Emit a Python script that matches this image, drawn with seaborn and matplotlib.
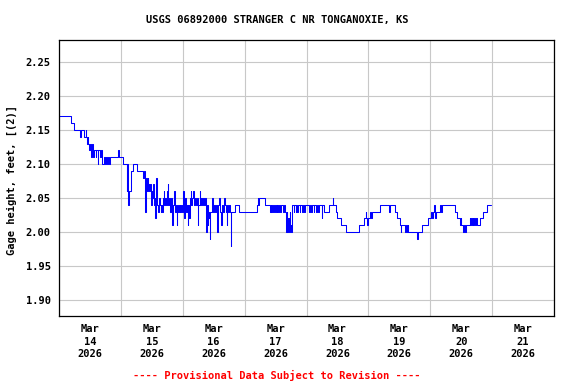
import matplotlib
matplotlib.use("Agg")
import matplotlib.pyplot as plt
from matplotlib.ticker import FormatStrFormatter, NullFormatter
import numpy as np
import pandas as pd
import seaborn as sns

# ---- data: (hours since 2026-03-14 00:00, gage height ft), held until next point ----
mar14 = [(0, 2.17), (4.65, 2.16), (5.8, 2.15), (8.1, 2.14), (8.4, 2.15), (9.8, 2.14),
         (10.3, 2.15), (10.5, 2.14), (10.8, 2.13), (11.1, 2.14), (11.4, 2.13), (11.8, 2.12),
         (12.1, 2.13), (12.4, 2.11), (12.7, 2.13), (13.0, 2.12), (13.3, 2.11), (13.6, 2.12),
         (14.2, 2.11), (14.5, 2.12), (15.0, 2.10), (15.3, 2.12), (15.8, 2.11), (16.2, 2.12),
         (16.7, 2.10), (17.6, 2.11), (17.9, 2.10), (18.3, 2.11), (18.6, 2.10), (19.0, 2.11),
         (19.4, 2.10), (19.8, 2.11), (22.9, 2.12), (23.2, 2.11)]
mar15 = [(24.8, 2.10), (26.2, 2.06), (26.5, 2.10), (26.9, 2.04), (27.2, 2.06), (27.8, 2.09),
         (28.7, 2.10), (30.2, 2.09), (32.6, 2.08), (33.0, 2.09), (33.3, 2.08), (33.5, 2.03),
         (33.75, 2.08), (34.1, 2.06), (34.4, 2.08), (34.7, 2.07), (35.0, 2.06), (35.3, 2.07),
         (35.6, 2.04), (35.9, 2.06), (36.2, 2.05), (36.5, 2.07), (36.8, 2.04), (37.1, 2.05),
         (37.4, 2.02), (37.6, 2.08), (37.85, 2.05), (38.2, 2.04), (38.5, 2.03), (38.8, 2.05),
         (39.1, 2.04), (39.4, 2.03), (39.7, 2.04), (40.0, 2.03), (40.3, 2.05), (40.6, 2.06),
         (40.9, 2.04), (41.2, 2.05), (41.5, 2.04), (41.8, 2.06), (42.1, 2.07), (42.35, 2.04),
         (42.7, 2.05), (43.0, 2.03), (43.4, 2.05), (43.9, 2.01), (44.2, 2.04), (44.6, 2.06),
         (44.9, 2.03), (45.2, 2.04), (45.6, 2.01), (45.9, 2.03), (46.2, 2.04), (46.5, 2.03),
         (46.8, 2.04), (47.1, 2.03), (47.4, 2.04), (47.8, 2.03)]
mar16 = [(48.1, 2.06), (48.35, 2.04), (48.6, 2.02), (48.9, 2.05), (49.2, 2.03), (49.5, 2.04),
         (49.9, 2.01), (50.15, 2.04), (50.5, 2.02), (50.8, 2.05), (51.1, 2.06), (51.35, 2.04),
         (51.7, 2.05), (52.0, 2.06), (52.25, 2.04), (52.6, 2.05), (53.0, 2.04), (53.4, 2.05),
         (53.8, 2.01), (54.05, 2.04), (54.5, 2.06), (54.75, 2.04), (55.2, 2.05), (55.6, 2.04),
         (56.0, 2.05), (56.2, 2.04), (56.5, 2.05), (57.0, 2.00), (57.25, 2.04), (57.6, 2.01),
         (57.9, 2.03), (58.2, 2.02), (58.5, 1.99), (58.75, 2.03), (59.3, 2.05), (59.6, 2.03),
         (60.0, 2.04), (60.4, 2.03), (60.8, 2.04), (61.3, 2.00), (61.55, 2.04), (62.0, 2.05),
         (62.3, 2.04), (62.6, 2.03), (62.9, 2.01), (63.15, 2.04), (63.5, 2.03), (64.0, 2.05),
         (64.3, 2.04), (64.7, 2.03), (65.0, 2.01), (65.25, 2.04), (65.6, 2.03), (65.9, 2.04),
         (66.2, 2.03), (66.6, 1.98), (66.85, 2.03), (68.2, 2.04), (69.8, 2.03)]
mar17 = [(76.8, 2.04), (77.1, 2.05), (77.3, 2.04), (77.5, 2.05), (80.0, 2.04), (81.8, 2.03),
         (82.1, 2.04), (82.4, 2.03), (82.7, 2.04), (83.0, 2.03), (83.3, 2.04), (83.7, 2.03),
         (84.0, 2.04), (84.4, 2.03), (84.7, 2.04), (85.1, 2.03), (85.5, 2.04), (85.9, 2.03),
         (86.3, 2.04), (86.7, 2.03), (87.1, 2.04), (87.5, 2.03), (88.0, 2.00), (88.25, 2.03),
         (88.5, 2.00), (88.75, 2.02), (89.2, 2.00), (89.45, 2.03), (89.7, 2.01), (90.1, 2.00),
         (90.35, 2.04), (91.0, 2.03), (91.25, 2.04), (91.8, 2.03), (92.05, 2.04), (92.4, 2.03),
         (92.65, 2.04), (93.3, 2.03), (93.55, 2.04), (94.2, 2.03), (94.45, 2.04), (95.0, 2.03),
         (95.5, 2.04)]
mar18 = [(97.0, 2.03), (97.25, 2.04), (97.8, 2.03), (98.05, 2.04), (98.8, 2.03), (99.05, 2.04),
         (99.6, 2.03), (100.1, 2.04), (100.6, 2.03), (100.85, 2.04), (101.9, 2.02), (102.15, 2.04),
         (102.7, 2.03), (104.7, 2.04), (106.2, 2.05), (106.45, 2.04), (107.3, 2.03), (107.9, 2.02),
         (109.2, 2.01), (111.5, 2.00), (116.3, 2.01), (118.3, 2.02), (118.9, 2.03), (119.15, 2.02),
         (119.4, 2.01)]
mar19 = [(120.0, 2.02), (120.8, 2.03), (121.1, 2.02), (121.5, 2.03), (124.5, 2.04), (128.0, 2.03),
         (128.25, 2.04), (130.3, 2.03), (131.0, 2.02), (132.2, 2.01), (132.5, 2.00), (132.75, 2.01),
         (134.2, 2.00), (134.6, 2.01), (134.85, 2.00), (135.2, 2.01), (135.45, 2.00), (138.8, 1.99),
         (139.3, 2.00), (140.7, 2.01), (143.1, 2.02)]
mar20 = [(144.2, 2.03), (144.6, 2.02), (145.0, 2.03), (145.4, 2.04), (145.65, 2.03), (146.0, 2.02),
         (146.3, 2.03), (147.7, 2.04), (148.0, 2.03), (148.4, 2.04), (153.5, 2.03), (154.3, 2.02),
         (155.5, 2.01), (155.8, 2.02), (156.1, 2.01), (156.6, 2.00), (157.0, 2.01), (157.3, 2.00),
         (157.8, 2.01), (159.3, 2.02), (159.55, 2.01), (159.9, 2.02), (160.15, 2.01), (160.5, 2.02),
         (160.75, 2.01), (161.1, 2.02), (161.35, 2.01), (161.7, 2.02), (162.0, 2.01), (163.2, 2.02),
         (164.4, 2.03), (165.9, 2.04), (167.5, 2.04)]

y_ticks = [1.90, 1.95, 2.00, 2.05, 2.10, 2.15, 2.20, 2.25]
day_labels = ["Mar\n14\n2026", "Mar\n15\n2026", "Mar\n16\n2026", "Mar\n17\n2026",
              "Mar\n18\n2026", "Mar\n19\n2026", "Mar\n20\n2026", "Mar\n21\n2026"]
title = "USGS 06892000 STRANGER C NR TONGANOXIE, KS"
ylabel = "Gage height, feet, [(2)]"
footer = "---- Provisional Data Subject to Revision ----"

# ---- build frame ----
start = pd.Timestamp("2026-03-14 00:00")
pairs = mar14 + mar15 + mar16 + mar17 + mar18 + mar19 + mar20
df = pd.DataFrame(pairs, columns=["hours", "gage"])
df["time"] = start + pd.to_timedelta(df["hours"], unit="h")

sns.set_theme(style="white")
plt.rcParams["font.family"] = ["DejaVu Sans Mono"]
plt.rcParams["font.weight"] = "bold"
plt.rcParams["font.size"] = 7.5
plt.rcParams["text.color"] = "black"
plt.rcParams["xtick.color"] = "black"
plt.rcParams["ytick.color"] = "black"
plt.rcParams["xtick.labelcolor"] = "black"
plt.rcParams["ytick.labelcolor"] = "black"

fig = plt.figure(figsize=(5.76, 3.84), dpi=100)
fig.patch.set_facecolor("white")
ax = fig.add_axes([59 / 576, 1 - 316 / 384, 495 / 576, 276 / 384])

sns.lineplot(data=df, x="time", y="gage", ax=ax, color="#0000ff", linewidth=0.75,
             drawstyle="steps-post", estimator=None, sort=True)

ax.set_xlim(start, start + pd.Timedelta(days=8))
ax.set_ylim(1.8765, 2.2824)
ax.set_yticks(y_ticks)
ax.yaxis.set_major_formatter(FormatStrFormatter("%.2f"))

midnights = [start + pd.Timedelta(days=i) for i in range(9)]
noons = [start + pd.Timedelta(days=i, hours=12) for i in range(8)]
ax.set_xticks(midnights)
ax.xaxis.set_major_formatter(NullFormatter())
ax.set_xticks(noons, minor=True)
ax.set_xticklabels(day_labels, minor=True, fontsize=7.5, fontweight="bold",
                   linespacing=1.3, color="black")

ax.grid(True, which="major", color="#c8c8c8", linewidth=0.8)
ax.grid(False, which="minor")
ax.tick_params(axis="both", which="both", length=0)
ax.tick_params(axis="x", which="minor", pad=6)
ax.tick_params(axis="y", which="major", pad=6, labelsize=7.5, labelcolor="black")
for s in ax.spines.values():
    s.set_color("black")
    s.set_linewidth(0.9)
ax.set_xlabel("")
ax.set_ylabel("")

fig.text(277 / 576, 1 - 20 / 384, title, ha="center", va="center", fontsize=7.5,
         fontweight="bold", color="black")
fig.text(12 / 576, 1 - 180 / 384, ylabel, ha="center", va="center", rotation=90,
         fontsize=7.5, fontweight="bold", color="black")
fig.text(277 / 576, 1 - 375 / 384, footer, ha="center", va="center", color="red",
         fontsize=7.5, fontweight="bold")

fig.savefig("out.png", dpi=100, facecolor="white")
